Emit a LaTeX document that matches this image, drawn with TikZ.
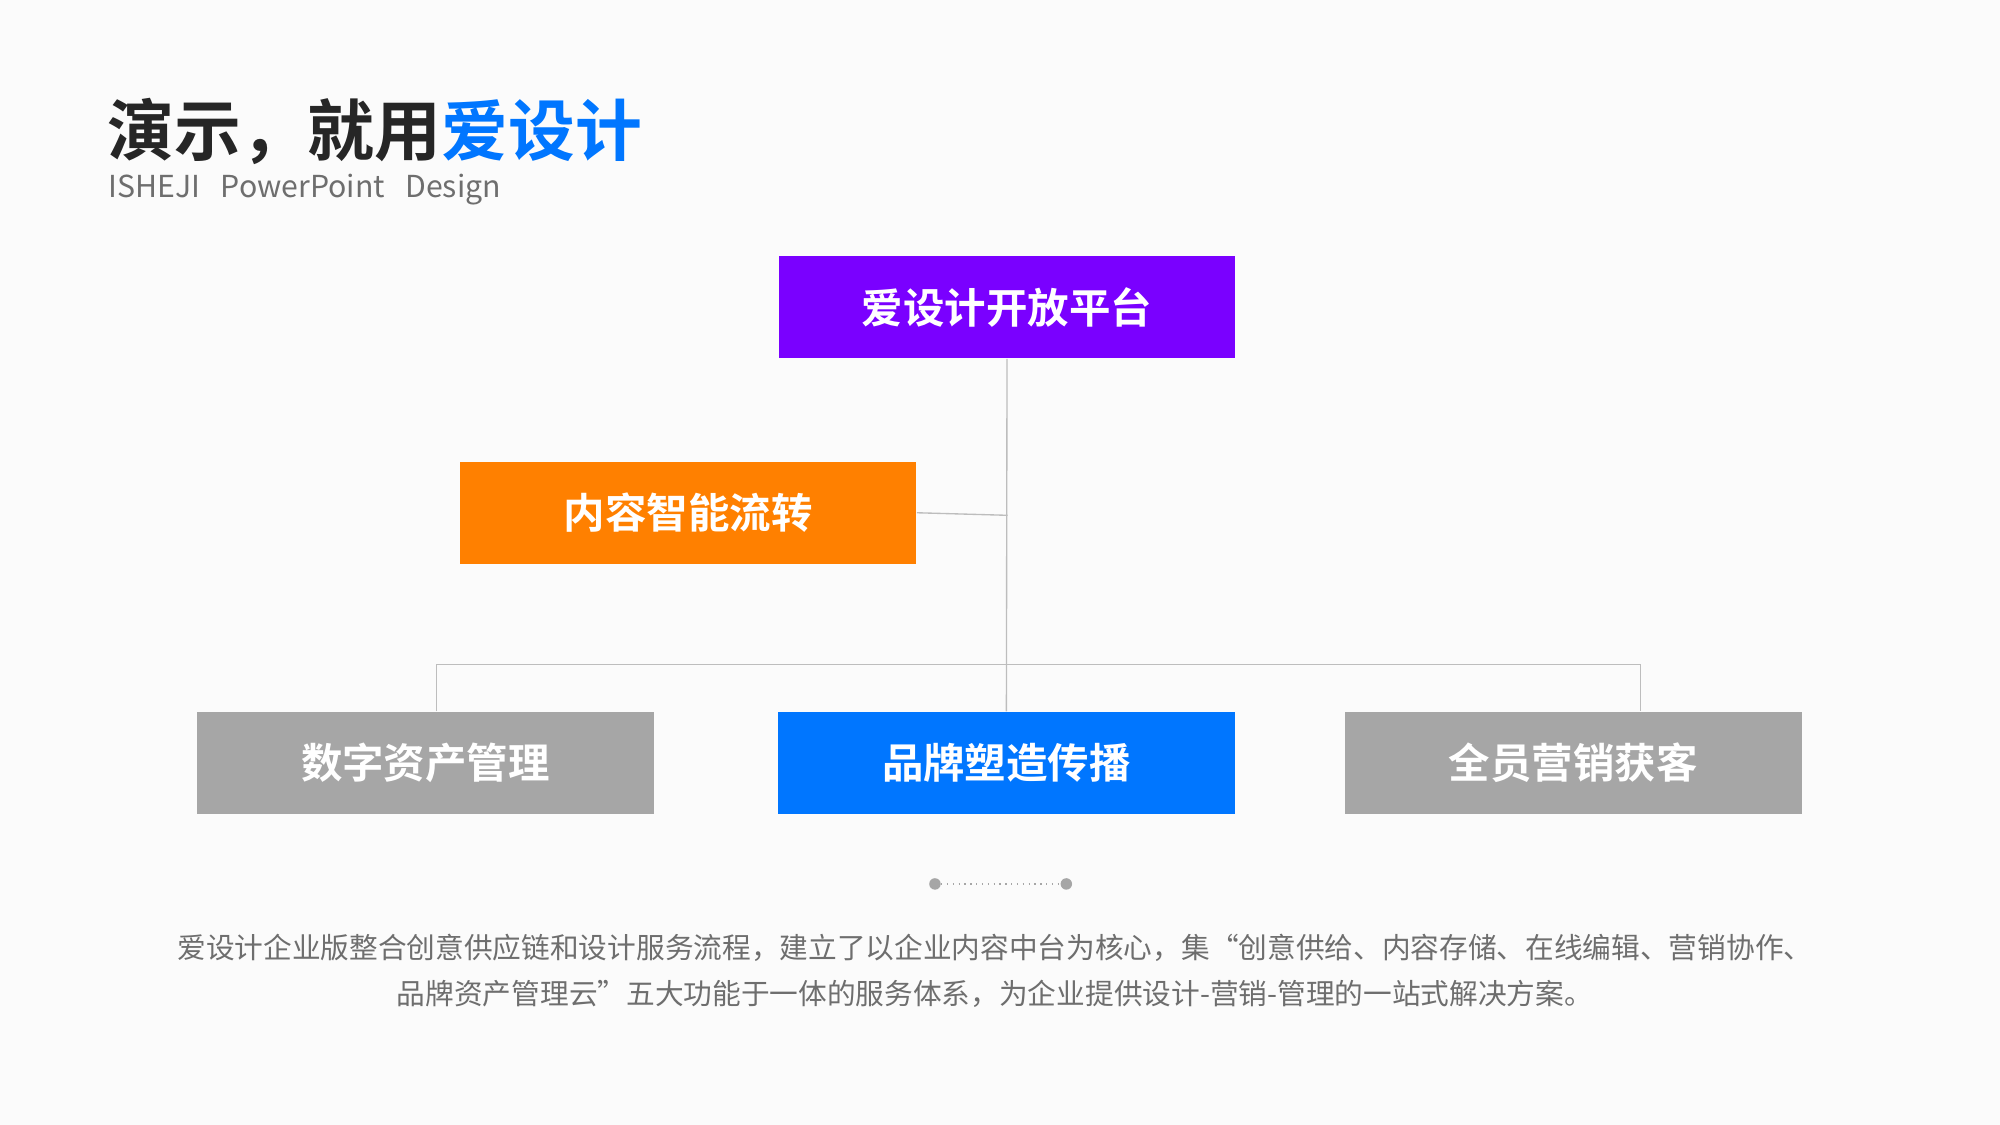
\documentclass[tikz,border=0pt]{standalone}
\usepackage{fontspec}
\newfontfamily\cjk{Noto Sans CJK SC}[BoldFont={Noto Sans CJK SC Bold}]
\setmainfont{Noto Sans CJK SC}
\usetikzlibrary{positioning}
\definecolor{violetbox}{HTML}{7A00FF}
\definecolor{orangebox}{HTML}{FF8000}
\definecolor{bluebox}{HTML}{0076FF}
\definecolor{greybox}{HTML}{A6A6A6}
\definecolor{linegrey}{HTML}{BDBDBD}
\definecolor{textgrey}{HTML}{6E6E6E}
\begin{document}
\begin{tikzpicture}[x=0.02cm,y=-0.02cm,
  box/.style={minimum width=7.16cm,minimum height=1.6cm,inner sep=0pt,
    text=white,font=\cjk\bfseries\fontsize{18.5}{22}\selectfont},
  conn/.style={draw=linegrey,line width=0.6pt}]

  \fill[white!60!gray!8] (0,0) rectangle (1568,882);
  \useasboundingbox (0,0) rectangle (1568,882);

  % title
  \node[anchor=west,inner sep=0pt,font=\cjk\bfseries\fontsize{29.8}{34}\selectfont,text=black!85] (title) at (84,103)
    {演示，就用\textcolor{bluebox}{爱设计}};
  \node[anchor=west,inner sep=0pt,font=\fontsize{13.5}{16}\selectfont,text=textgrey] (sub) at (85,149)
    {ISHEJI\ \ \ PowerPoint\ \ \ Design};

  % boxes
  \node[box,fill=violetbox] (top) at (789.5,241) {爱设计开放平台};
  \node[box,fill=orangebox] (flow) at (539.5,402) {内容智能流转};
  \node[box,fill=greybox] (asset) at (333.5,598) {数字资产管理};
  \node[box,fill=bluebox] (brand) at (789,598) {品牌塑造传播};
  \node[box,fill=greybox] (sales) at (1233.5,598) {全员营销获客};

  % connectors
  \coordinate (hub) at (790,404);
  \coordinate (bar) at (790,521);
  \draw[conn] (top.south) -- (brand.north);
  \draw[conn] (flow.east) -- (hub);
  \draw[conn] (asset.north -| 342,0) |- (bar) -| (sales.north -| 1286,0);

  % dots
  \node[circle,fill=gray!70,inner sep=0pt,minimum size=0.18cm] (d1) at (733,693) {};
  \node[circle,fill=gray!70,inner sep=0pt,minimum size=0.18cm] (d2) at (836,693) {};
  \draw[gray!70,dotted,line width=0.6pt] (d1) -- (d2);

  % text
  \node[align=center,inner sep=0pt,text=textgrey,font=\fontsize{12.8}{20.5}\selectfont] (body) at (780,761)
    {爱设计企业版整合创意供应链和设计服务流程，建立了以企业内容中台为核心，集“创意供给、内容存储、在线编辑、营销协作、\\
     品牌资产管理云”五大功能于一体的服务体系，为企业提供设计-营销-管理的一站式解决方案。};
\end{tikzpicture}
\end{document}
